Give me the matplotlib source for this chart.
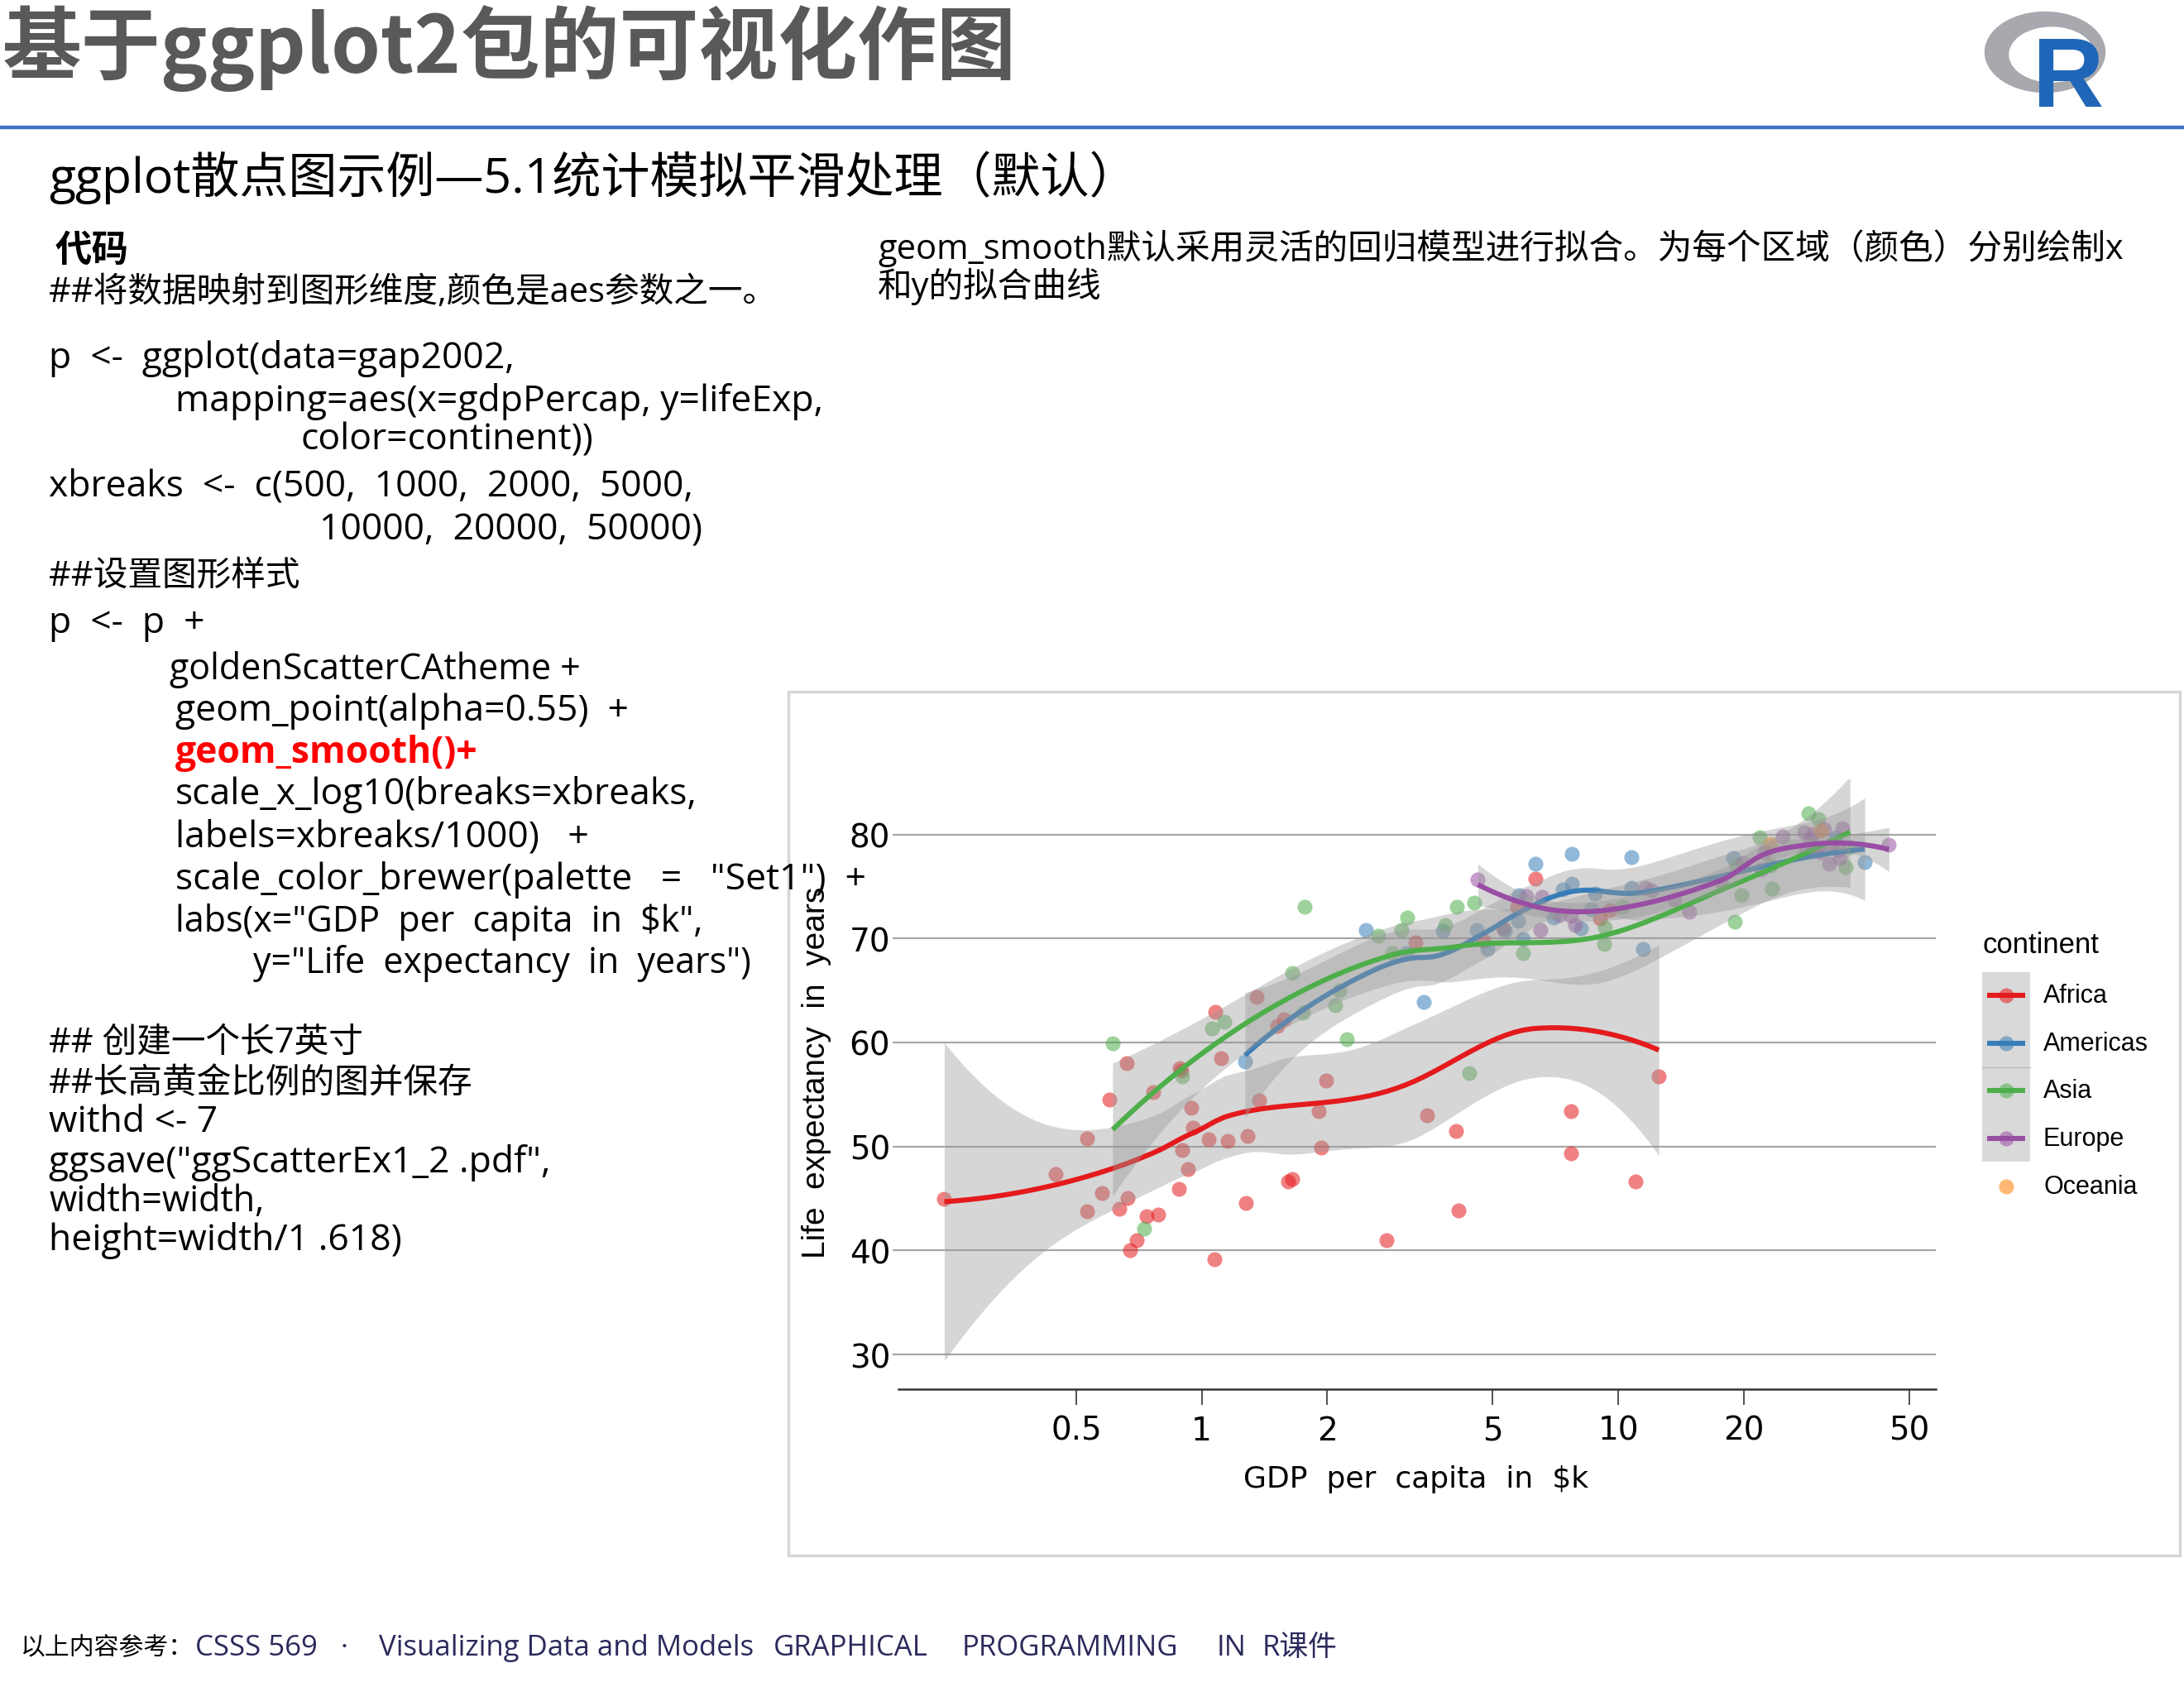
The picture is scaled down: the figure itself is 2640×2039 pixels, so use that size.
import numpy as np
import matplotlib
matplotlib.use("Agg")
import matplotlib.pyplot as plt
from matplotlib.patches import Rectangle, Ellipse
from matplotlib.ticker import NullLocator

plt.rcParams['font.family'] = ['Noto Sans CJK SC', 'DejaVu Sans']
LATIN = ['Open Sans', 'Noto Sans CJK SC', 'DejaVu Sans']

W, H = 2640, 2040

# gap2002: gdp per capita in $k, life expectancy in years
africa_gdp = [5.288, 2.773, 1.373, 11.004, 1.038, 0.446, 1.934, 0.739, 1.156, 1.076,
              0.241, 3.484, 1.649, 1.908, 4.755, 7.703, 0.765, 0.530, 12.522, 0.661,
              1.112, 0.946, 0.576, 1.288, 1.275, 0.531, 9.535, 0.895, 0.665, 0.951,
              1.579, 9.022, 3.258, 0.634, 4.072, 0.601, 1.615, 6.316, 0.786, 1.353,
              1.520, 0.699, 0.882, 7.711, 1.993, 4.128, 0.899, 0.886, 5.723, 0.928,
              1.072, 0.672]
africa_life = [70.99, 41.00, 54.41, 46.63, 50.65, 47.36, 49.86, 43.31, 50.53, 62.97,
               44.97, 52.97, 46.83, 53.37, 69.81, 49.35, 55.24, 50.73, 56.76, 58.04,
               58.45, 53.68, 45.50, 50.99, 44.59, 43.75, 72.74, 57.29, 45.01, 51.82,
               62.25, 71.95, 69.62, 44.03, 51.48, 54.50, 46.61, 75.74, 43.41, 64.34,
               61.60, 41.01, 45.94, 53.37, 56.37, 43.87, 49.65, 57.56, 73.04, 47.81,
               39.19, 39.99]

americas_gdp = [8.798, 3.413, 8.131, 33.329, 10.779, 5.755, 7.723, 6.341, 4.564, 5.773,
                5.352, 4.858, 1.270, 3.100, 6.995, 10.742, 2.475, 7.356, 3.784, 5.909,
                18.856, 11.461, 39.097, 7.727, 8.605]
americas_life = [74.34, 63.88, 71.01, 79.77, 77.86, 71.68, 78.12, 77.16, 70.85, 74.17,
                 70.73, 68.98, 58.14, 68.57, 72.05, 74.90, 70.84, 74.71, 70.76, 69.91,
                 77.78, 68.98, 77.31, 75.31, 72.77]

asia_gdp = [0.727, 23.404, 1.136, 0.896, 3.119, 30.209, 1.747, 2.874, 9.241, 4.391,
            21.906, 28.605, 3.845, 1.647, 19.234, 35.110, 9.314, 10.207, 2.141, 0.611,
            1.057, 19.775, 2.093, 2.651, 19.015, 36.023, 3.015, 4.091, 23.235, 5.913,
            1.764, 4.515, 2.235]
asia_life = [42.13, 74.80, 62.01, 56.75, 72.03, 81.50, 62.88, 68.59, 69.45, 57.05,
             79.70, 82.00, 71.26, 66.66, 77.05, 76.90, 71.03, 73.04, 65.03, 59.91,
             61.34, 74.19, 63.61, 70.30, 71.63, 78.77, 70.82, 73.05, 76.99, 68.56,
             73.02, 73.42, 60.31]

europe_gdp = [4.604, 32.418, 30.486, 6.019, 7.697, 11.628, 17.596, 32.167, 28.205, 28.926,
              30.036, 22.514, 14.844, 31.163, 34.077, 27.968, 6.557, 33.725, 44.684, 12.002,
              19.971, 7.885, 7.236, 13.639, 22.012, 24.835, 29.342, 34.481, 6.508, 29.479]
europe_life = [75.65, 78.98, 78.32, 74.09, 72.14, 74.88, 75.51, 77.18, 78.37, 79.59,
               78.67, 78.26, 72.59, 80.50, 77.78, 80.24, 73.98, 78.53, 79.05, 74.67,
               77.29, 71.32, 72.23, 73.80, 76.66, 79.78, 80.04, 80.62, 70.85, 78.47]

oceania_gdp = [30.688, 23.190]
oceania_life = [80.37, 79.11]

continents = ['Africa', 'Americas', 'Asia', 'Europe', 'Oceania']
gdp = [africa_gdp, americas_gdp, asia_gdp, europe_gdp, oceania_gdp]
life = [africa_life, americas_life, asia_life, europe_life, oceania_life]
set1 = ['#E41A1C', '#377EB8', '#4DAF4A', '#984EA3', '#FF7F00']

xbreaks = [0.5, 1, 2, 5, 10, 20, 50]
xlabels = ['0.5', '1', '2', '5', '10', '20', '50']
yticks = [30, 40, 50, 60, 70, 80]


def t975(df):
    # Cornish-Fisher approximation of qt(0.975, df)
    z = 1.959964
    g1 = (z**3 + z) / 4
    g2 = (5 * z**5 + 16 * z**3 + 3 * z) / 96
    g3 = (3 * z**7 + 19 * z**5 + 17 * z**3 - 15 * z) / 384
    return z + g1 / df + g2 / df**2 + g3 / df**3


def loess_band(xs, ys, span=0.75, cell=0.2, ngrid=80):
    # loess (degree 2) on log10(x) with kd-tree vertices + cubic hermite
    # interpolation, the way R's default surface="interpolate" works
    lx = np.log10(np.asarray(xs))
    y = np.asarray(ys, dtype=float)
    n = len(lx)
    q = int(np.floor(n * span))

    def local(x0):
        d = np.abs(lx - x0)
        h = np.sort(d)[q - 1]
        u = np.clip(d / h, 0, 1)
        w = (1 - u**3)**3
        X = np.column_stack([np.ones(n), lx - x0, (lx - x0)**2])
        XtW = X.T * w
        A = np.linalg.solve(XtW @ X, XtW)
        return A[0], A[1]

    xs_sorted = np.sort(lx)
    mu = 0.005 * (xs_sorted[-1] - xs_sorted[0])
    verts = [xs_sorted[0] - mu, xs_sorted[-1] + mu]
    fc = int(np.floor(n * span * cell))

    def split(lo, hi):
        if hi - lo + 1 <= fc:
            return
        m = (lo + hi) // 2
        verts.append(xs_sorted[m])
        split(lo, m)
        split(m + 1, hi)

    split(0, n - 1)
    verts = np.unique(verts)
    vals, slopes = zip(*[local(v) for v in verts])
    vals = np.array(vals)
    slopes = np.array(slopes)

    def rows(points):
        idx = np.clip(np.searchsorted(verts, points) - 1, 0, len(verts) - 2)
        h = verts[idx + 1] - verts[idx]
        t = ((points - verts[idx]) / h)[:, None]
        h = h[:, None]
        return ((2 * t**3 - 3 * t**2 + 1) * vals[idx] + (t**3 - 2 * t**2 + t) * h * slopes[idx]
                + (-2 * t**3 + 3 * t**2) * vals[idx + 1] + (t**3 - t**2) * h * slopes[idx + 1])

    L = rows(lx)
    res = y - L @ y
    M = np.eye(n) - L
    MM = M.T @ M
    d1 = np.trace(MM)
    d2 = np.trace(MM @ MM)
    s = np.sqrt(res @ res / d1)
    grid = np.linspace(lx.min(), lx.max(), ngrid)
    G = rows(grid)
    fit = G @ y
    se = s * np.sqrt((G**2).sum(1))
    t = t975(d1**2 / d2)
    return 10**grid, fit, fit - t * se, fit + t * se


fig = plt.figure(figsize=(W / 100, H / 100), dpi=100)


def put(x, y, s, **kw):
    kw.setdefault('va', 'center')
    kw.setdefault('ha', 'left')
    return fig.text(x / W, 1 - y / H, s, **kw)


# background layer in pixel coordinates
bg = fig.add_axes([0, 0, 1, 1], zorder=-5)
bg.set_xlim(0, W)
bg.set_ylim(H, 0)
bg.axis('off')
bg.plot([0, W], [155, 155], color='#4472C4', lw=3.2, solid_capstyle='butt')
bg.add_patch(Rectangle((953, 837), 1682, 1044, fill=False, ec='#d6d6d6', lw=2.5))
# R logo
bg.add_patch(Ellipse((2472, 64), 145, 97, color='#a8a9ae'))
bg.add_patch(Ellipse((2480, 67), 102, 66, color='white'))
bg.text(2500, 129, 'R', fontsize=86, fontweight='bold', color='#1f66b8',
        family='Liberation Sans', ha='center', va='baseline')

# chart
ax = fig.add_axes([1086 / W, 1 - 1680 / H, (2340 - 1086) / W, (1680 - 943) / H])
ax.set_xscale('log')
for g, l, c in zip(gdp, life, set1):
    ax.scatter(g, l, s=170, color=c, alpha=0.55, linewidths=0, zorder=2)
for g, l, c in zip(gdp, life, set1):
    if len(g) < 5:
        continue  # too few points for loess
    xg, fit, lo, hi = loess_band(g, l)
    ax.fill_between(xg, lo, hi, color='#999999', alpha=0.4, lw=0, zorder=3)
    ax.plot(xg, fit, color=c, lw=4.4, zorder=3, solid_capstyle='butt')

ax.set_xlim(0.187, 57.9)
ax.set_ylim(26.66, 85.3)
ax.set_xticks(xbreaks)
ax.set_xticklabels(xlabels, family='Liberation Sans Narrow', fontsize=28)
ax.xaxis.set_minor_locator(NullLocator())
ax.set_yticks(yticks)
ax.set_yticklabels([str(v) for v in yticks], family='Liberation Sans Narrow', fontsize=28)
ax.tick_params(axis='x', length=14, width=1.2, color='#333333', pad=8)
ax.tick_params(axis='y', length=5, width=1.6, color='#a6a6a6', pad=2)
ax.yaxis.grid(True, color='#a6a6a6', lw=1.6)
ax.set_axisbelow(True)
for side in ['left', 'top', 'right']:
    ax.spines[side].set_visible(False)
ax.spines['bottom'].set_color('#333333')
ax.spines['bottom'].set_linewidth(1.8)

put(987, 1296, 'Life  expectancy  in  years', rotation=90, ha='center',
    family='Liberation Sans', fontsize=28)
put(1712, 1788, 'GDP  per  capita  in  $k', ha='center',
    family='Liberation Sans Narrow', fontsize=26)

# legend
put(2397, 1143, 'continent', family='Liberation Sans', fontsize=25)
bg.add_patch(Rectangle((2396, 1176), 58, 229, color='#d9d9d9', lw=0))
bg.plot([2396, 2454], [1291, 1291], color='#bdbdbd', lw=1)
key_y = [1204, 1262, 1319, 1377, 1435]
for name, c, ky, g in zip(continents, set1, key_y, gdp):
    if len(g) >= 5:
        bg.plot([2402, 2448], [ky, ky], color=c, lw=4.4, solid_capstyle='butt')
    bg.scatter([2425], [ky], s=170, color=c, alpha=0.55, linewidths=0)
    put(2470, ky, name, family='Liberation Sans', fontsize=22)

# slide text
put(3, 59, '基于ggplot2包的可视化作图', fontsize=69, fontweight='bold', color='#595959')
put(59, 215, 'ggplot散点图示例—5.1统计模拟平滑处理（默认）', fontsize=42.5, family=LATIN)
put(67, 303, '代码', fontsize=32, fontweight='bold')

code_lines = [
    (59, 354, 30, '##将数据映射到图形维度,颜色是aes参数之一。'),
    (59, 434, 32, 'p  <-  ggplot(data=gap2002,'),
    (212, 485, 32, 'mapping=aes(x=gdpPercap, y=lifeExp,'),
    (364, 532, 32, 'color=continent))'),
    (59, 588, 32, 'xbreaks  <-  c(500,  1000,  2000,  5000,'),
    (386, 641, 32, '10000,  20000,  50000)'),
    (59, 697, 30, '##设置图形样式'),
    (59, 754, 32, 'p  <-  p  +'),
    (205, 810, 31, 'goldenScatterCAtheme +'),
    (212, 860, 32, 'geom_point(alpha=0.55)  +'),
    (212, 961, 32, 'scale_x_log10(breaks=xbreaks,'),
    (212, 1012, 32, 'labels=xbreaks/1000)   +'),
    (212, 1064, 32, 'scale_color_brewer(palette   =   "Set1")  +'),
    (212, 1115, 31, 'labs(x="GDP  per  capita  in  $k",'),
    (306, 1165, 31, 'y="Life  expectancy  in  years")'),
    (59, 1261, 30, '## 创建一个长7英寸'),
    (59, 1310, 30, '##长高黄金比例的图并保存'),
    (59, 1357, 32, 'withd <- 7'),
    (59, 1406, 32, 'ggsave("ggScatterEx1_2 .pdf",'),
    (59, 1453, 31, 'width=width,'),
    (59, 1500, 32, 'height=width/1 .618)'),
]
for x, y, fs, s in code_lines:
    put(x, y, s, fontsize=fs, family=LATIN)
put(212, 911, 'geom_smooth()+', fontsize=32, fontweight='bold', color='#FF0000', family=LATIN)

put(1061, 300, 'geom_smooth默认采用灵活的回归模型进行拟合。为每个区域（颜色）分别绘制x',
    fontsize=30, family=LATIN)
put(1061, 346, '和y的拟合曲线', fontsize=30, family=LATIN)

put(24, 1992, '以上内容参考：', fontsize=21.5)
footer_parts = [
    (236, 'CSSS 569'),
    (412, '·'),
    (458, 'Visualizing Data and Models'),
    (935, 'GRAPHICAL'),
    (1163, 'PROGRAMMING'),
    (1471, 'IN'),
    (1526, 'R课件'),
]
for x, s in footer_parts:
    put(x, 1992, s, fontsize=25, color='#2b2a5c', family=LATIN)

fig.savefig('out.png', dpi=100)
